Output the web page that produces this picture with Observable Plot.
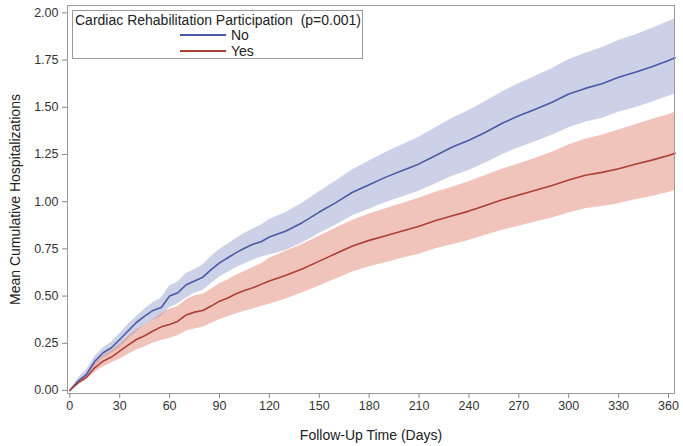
<!DOCTYPE html>
<html>
<head>
<meta charset="utf-8">
<script src="https://cdn.jsdelivr.net/npm/d3@7"></script>
<script src="https://cdn.jsdelivr.net/npm/@observablehq/plot@0.6"></script>
<style>
  html, body { margin: 0; padding: 0; background: #fff; }
  #wrap { position: relative; width: 683px; height: 446px; font-family: "Liberation Sans", Arial, sans-serif; }
  #legend { position: absolute; left: 72px; top: 10px; width: 289px; height: 47px; border: 1px solid #9a9a9a; background: #fff; color: #222; font-size: 14px; }
  #legend .title { position: absolute; left: 2px; top: 1px; white-space: pre; }
  #legend .item { position: absolute; left: 107px; height: 16px; display: flex; align-items: center; }
  #legend .sw { width: 46px; height: 0; border-top: 2px solid; margin-right: 5px; }
  g[aria-label="x-axis label"] text, g[aria-label="y-axis label"] text { font-size: 14px; fill: #222; }
</style>
</head>
<body>
<div id="wrap"></div>
<script>
const days = [0,5,10,15,20,25,30,35,40,45,50,55,60,65,70,75,80,85,90,95,100,105,110,115,120,
  130,140,150,160,170,180,190,200,210,220,230,240,250,260,270,280,290,300,310,320,330,340,350,360,364];

const noMean = [0,0.05,0.085,0.155,0.2,0.226,0.27,0.315,0.36,0.394,0.424,0.44,0.5,0.518,0.56,0.58,0.6,0.64,0.676,0.703,0.73,0.753,0.774,0.788,0.813,
  0.845,0.89,0.945,0.995,1.05,1.09,1.13,1.165,1.2,1.245,1.29,1.325,1.368,1.415,1.455,1.49,1.527,1.57,1.6,1.625,1.659,1.685,1.715,1.748,1.762];
const noUpper = [0,0.065,0.11,0.18,0.225,0.255,0.3,0.35,0.39,0.43,0.465,0.49,0.553,0.575,0.62,0.64,0.665,0.71,0.745,0.775,0.805,0.832,0.855,0.875,0.905,
  0.942,0.993,1.053,1.109,1.169,1.215,1.26,1.301,1.341,1.392,1.442,1.483,1.53,1.581,1.625,1.664,1.705,1.752,1.786,1.815,1.853,1.883,1.917,1.954,1.969];
const noLower = [0,0.035,0.065,0.125,0.17,0.195,0.225,0.27,0.31,0.345,0.37,0.39,0.438,0.46,0.49,0.515,0.53,0.565,0.6,0.625,0.65,0.67,0.69,0.705,0.718,
  0.742,0.782,0.831,0.875,0.925,0.96,0.995,1.025,1.055,1.095,1.135,1.165,1.205,1.249,1.286,1.318,1.352,1.392,1.42,1.442,1.474,1.498,1.526,1.558,1.571];

const yesMean = [0,0.04,0.07,0.12,0.155,0.177,0.208,0.24,0.27,0.29,0.315,0.337,0.35,0.367,0.4,0.415,0.424,0.447,0.473,0.49,0.512,0.53,0.544,0.562,0.58,
  0.61,0.645,0.685,0.725,0.765,0.795,0.82,0.845,0.87,0.9,0.925,0.95,0.98,1.01,1.035,1.06,1.086,1.115,1.14,1.155,1.174,1.198,1.22,1.245,1.257];
const yesUpper = [0,0.05,0.085,0.145,0.185,0.21,0.245,0.285,0.32,0.345,0.375,0.405,0.43,0.445,0.48,0.5,0.51,0.535,0.565,0.585,0.61,0.63,0.65,0.67,0.70,
  0.737,0.775,0.817,0.86,0.9,0.935,0.963,0.99,1.018,1.05,1.077,1.105,1.138,1.172,1.2,1.23,1.262,1.3,1.33,1.352,1.38,1.408,1.435,1.46,1.474];
const yesLower = [0,0.03,0.055,0.095,0.125,0.145,0.165,0.19,0.215,0.23,0.25,0.265,0.275,0.29,0.315,0.325,0.335,0.355,0.375,0.39,0.405,0.42,0.43,0.445,0.457,
  0.485,0.517,0.553,0.59,0.627,0.655,0.677,0.70,0.722,0.75,0.772,0.795,0.822,0.848,0.87,0.892,0.914,0.94,0.962,0.974,0.989,1.01,1.028,1.049,1.059];

const groups = ["No", "Yes"];
const lineColors = ["#4a5aa6", "#ad3f37"];
const bandColors = ["#9aa4d0", "#e38a78"];
const yTicks = [0,0.25,0.5,0.75,1.0,1.25,1.5,1.75,2.0];
const xTicks = [0,30,60,90,120,150,180,210,240,270,300,330,360];

const rows = [];
days.forEach((d, i) => {
  rows.push({day: d, group: "No", mean: noMean[i], lo: noLower[i], hi: noUpper[i]});
  rows.push({day: d, group: "Yes", mean: yesMean[i], lo: yesLower[i], hi: yesUpper[i]});
});

const chart = Plot.plot({
  width: 683,
  height: 446,
  marginLeft: 67,
  marginRight: 9,
  marginTop: 5,
  marginBottom: 53,
  style: {fontFamily: "'Liberation Sans', Arial, sans-serif", fontSize: "12px", color: "#333", background: "#fff"},
  x: {domain: [-1.4, 363.6]},
  y: {domain: [-0.016, 2.039]},
  color: {domain: groups, range: lineColors},
  marks: [
    Plot.areaY(rows.filter(r => r.group === "No"), {x: "day", y1: "lo", y2: "hi", fill: bandColors[0], fillOpacity: 0.5}),
    Plot.areaY(rows.filter(r => r.group === "Yes"), {x: "day", y1: "lo", y2: "hi", fill: bandColors[1], fillOpacity: 0.5}),
    Plot.line(rows, {x: "day", y: "mean", stroke: "group", strokeWidth: 1.6}),
    Plot.frame({stroke: "#9a9a9a"}),
    Plot.axisX({ticks: xTicks, tickSize: 5, tickPadding: 3, stroke: "#888", fontSize: 12.5,
      label: "Follow-Up Time (Days)", labelAnchor: "center", labelArrow: "none", labelOffset: 46}),
    Plot.axisY({ticks: yTicks, tickSize: 5, tickPadding: 4, stroke: "#888", fontSize: 12.5,
      tickFormat: d3.format(".2f"),
      label: "Mean Cumulative Hospitalizations", labelAnchor: "center", labelArrow: "none", labelOffset: 57})
  ]
});

const wrap = document.getElementById("wrap");
wrap.appendChild(chart);

const legend = document.createElement("div");
legend.id = "legend";
legend.innerHTML = `<div class="title">Cardiac Rehabilitation Participation  (p=0.001)</div>` +
  groups.map((g, i) => `<div class="item" style="top:${16 + i * 16}px"><span class="sw" style="border-color:${lineColors[i]}"></span><span>${g}</span></div>`).join("");
wrap.appendChild(legend);
</script>
</body>
</html>
